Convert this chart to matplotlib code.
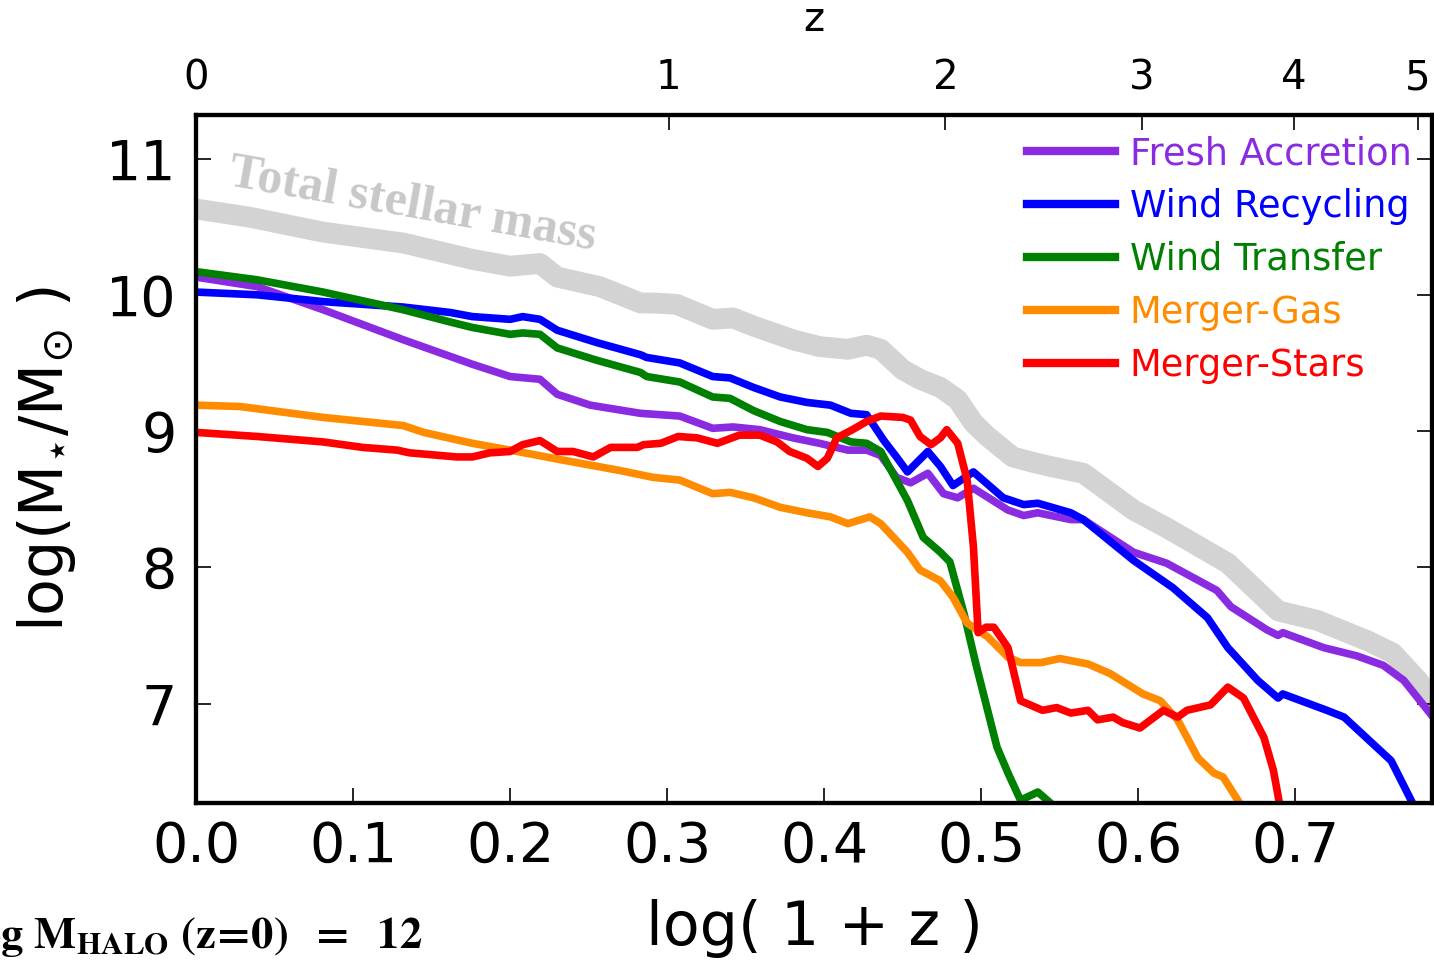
import numpy as np
import matplotlib
matplotlib.use("Agg")
import matplotlib.pyplot as plt

# log(1+z) samples and log stellar mass, one list per channel
total_x = [0.0, 0.034, 0.081, 0.132, 0.176, 0.200, 0.219, 0.230, 0.257, 0.283, 0.291, 0.306,
           0.329, 0.342, 0.355, 0.380, 0.397, 0.415, 0.427, 0.436, 0.450, 0.461, 0.474, 0.485,
           0.495, 0.504, 0.520, 0.533, 0.544, 0.565, 0.597, 0.618, 0.639, 0.657, 0.689, 0.714,
           0.746, 0.762, 0.778, 0.787]
total_y = [10.63, 10.57, 10.46, 10.38, 10.26, 10.21, 10.23, 10.13, 10.06, 9.94, 9.94, 9.93,
           9.82, 9.83, 9.77, 9.67, 9.62, 9.60, 9.63, 9.60, 9.45, 9.38, 9.32, 9.23,
           9.06, 8.96, 8.81, 8.77, 8.74, 8.69, 8.42, 8.29, 8.15, 8.03, 7.68, 7.61,
           7.46, 7.37, 7.17, 7.03]

fresh_x = [0.0, 0.039, 0.081, 0.132, 0.176, 0.200, 0.219, 0.230, 0.251, 0.283, 0.308, 0.329,
           0.342, 0.359, 0.380, 0.397, 0.415, 0.427, 0.436, 0.446, 0.455, 0.466, 0.476, 0.485,
           0.495, 0.517, 0.527, 0.536, 0.557, 0.565, 0.597, 0.618, 0.650, 0.659, 0.682, 0.689,
           0.692, 0.718, 0.739, 0.756, 0.769, 0.787]
fresh_y = [10.13, 10.06, 9.89, 9.67, 9.49, 9.40, 9.38, 9.27, 9.19, 9.13, 9.11, 9.02,
           9.03, 9.01, 8.95, 8.91, 8.86, 8.86, 8.82, 8.66, 8.62, 8.69, 8.54, 8.51,
           8.58, 8.42, 8.38, 8.40, 8.35, 8.35, 8.11, 8.03, 7.83, 7.71, 7.54, 7.50,
           7.52, 7.41, 7.35, 7.28, 7.17, 6.91]

recyc_x = [0.0, 0.039, 0.081, 0.132, 0.162, 0.176, 0.200, 0.208, 0.219, 0.230, 0.255, 0.283,
           0.287, 0.308, 0.329, 0.340, 0.355, 0.372, 0.389, 0.404, 0.417, 0.427, 0.438, 0.446,
           0.453, 0.466, 0.474, 0.482, 0.495, 0.514, 0.527, 0.536, 0.557, 0.565, 0.597, 0.622,
           0.644, 0.657, 0.676, 0.689, 0.692, 0.720, 0.731, 0.761, 0.775]
recyc_y = [10.02, 10.00, 9.95, 9.91, 9.87, 9.84, 9.82, 9.84, 9.82, 9.74, 9.65, 9.56,
           9.54, 9.50, 9.40, 9.39, 9.32, 9.25, 9.21, 9.19, 9.13, 9.12, 8.93, 8.81,
           8.70, 8.85, 8.74, 8.60, 8.70, 8.51, 8.46, 8.47, 8.40, 8.35, 8.05, 7.85,
           7.63, 7.41, 7.17, 7.04, 7.07, 6.95, 6.90, 6.58, 6.26]

transfer_x = [0.0, 0.039, 0.081, 0.132, 0.162, 0.176, 0.200, 0.208, 0.219, 0.230, 0.255, 0.283,
              0.287, 0.308, 0.329, 0.340, 0.355, 0.372, 0.389, 0.402, 0.417, 0.427, 0.436, 0.453,
              0.463, 0.474, 0.480, 0.489, 0.497, 0.510, 0.517, 0.525, 0.536, 0.546]
transfer_y = [10.17, 10.11, 10.02, 9.89, 9.80, 9.76, 9.71, 9.72, 9.71, 9.61, 9.52, 9.43,
              9.40, 9.36, 9.25, 9.24, 9.15, 9.07, 9.01, 8.99, 8.92, 8.91, 8.85, 8.49,
              8.22, 8.11, 8.04, 7.66, 7.27, 6.68, 6.49, 6.29, 6.35, 6.25]

mgas_x = [0.0, 0.028, 0.081, 0.132, 0.145, 0.176, 0.200, 0.232, 0.270, 0.291, 0.308, 0.329,
          0.340, 0.355, 0.372, 0.389, 0.404, 0.415, 0.429, 0.436, 0.453, 0.461, 0.474, 0.482,
          0.491, 0.504, 0.517, 0.525, 0.538, 0.550, 0.568, 0.582, 0.603, 0.614, 0.625, 0.638,
          0.648, 0.654, 0.665]
mgas_y = [9.19, 9.18, 9.10, 9.04, 8.99, 8.91, 8.86, 8.79, 8.71, 8.66, 8.64, 8.54,
          8.55, 8.51, 8.44, 8.40, 8.37, 8.32, 8.37, 8.32, 8.11, 7.98, 7.90, 7.78,
          7.59, 7.49, 7.34, 7.30, 7.30, 7.33, 7.29, 7.22, 7.07, 7.02, 6.88, 6.60,
          6.49, 6.46, 6.26]

mstar_x = [0.0, 0.039, 0.081, 0.106, 0.128, 0.136, 0.166, 0.176, 0.187, 0.200, 0.208, 0.219,
           0.230, 0.240, 0.253, 0.264, 0.281, 0.285, 0.296, 0.307, 0.319, 0.332, 0.346, 0.359,
           0.370, 0.378, 0.389, 0.396, 0.402, 0.408, 0.418, 0.427, 0.436, 0.450, 0.455, 0.461,
           0.468, 0.474, 0.478, 0.485, 0.491, 0.495, 0.498, 0.503, 0.508, 0.517, 0.525, 0.529,
           0.539, 0.548, 0.557, 0.568, 0.574, 0.584, 0.590, 0.601, 0.616, 0.625, 0.631, 0.646,
           0.657, 0.667, 0.680, 0.686, 0.690]
mstar_y = [8.99, 8.96, 8.92, 8.88, 8.86, 8.84, 8.81, 8.81, 8.84, 8.85, 8.90, 8.93,
           8.85, 8.85, 8.81, 8.88, 8.88, 8.90, 8.91, 8.96, 8.95, 8.91, 8.97, 8.97,
           8.92, 8.85, 8.80, 8.74, 8.80, 8.95, 9.01, 9.07, 9.11, 9.10, 9.08, 8.96,
           8.90, 8.95, 9.01, 8.91, 8.64, 8.15, 7.52, 7.56, 7.56, 7.41, 7.02, 7.00,
           6.95, 6.97, 6.93, 6.95, 6.88, 6.90, 6.86, 6.82, 6.95, 6.90, 6.95, 6.99,
           7.12, 7.04, 6.75, 6.51, 6.26]

labels = ["Fresh Accretion", "Wind Recycling", "Wind Transfer", "Merger-Gas", "Merger-Stars"]
colors = ["#8A2BE2", "#0000FF", "#008000", "#FF8C00", "#FF0000"]

z_ticks = [0, 1, 2, 3, 4, 5]

plt.rcParams["mathtext.fontset"] = "dejavusans"

fig = plt.figure(figsize=(14.34, 9.63), dpi=100)
ax = fig.add_axes([0.1367, 0.1662, 0.8619, 0.7144])

# total stellar mass as a thick grey band
ax.plot(total_x, total_y, color="lightgray", lw=15, solid_joinstyle="round", zorder=1)

series = [(fresh_x, fresh_y), (recyc_x, recyc_y), (transfer_x, transfer_y),
          (mgas_x, mgas_y), (mstar_x, mstar_y)]
for (xs, ys), lab, col in zip(series, labels, colors):
    ax.plot(xs, ys, color=col, lw=5.5, label=lab, zorder=2,
            solid_joinstyle="round")

ax.set_xlim(0, 0.787)
ax.set_ylim(6.27, 11.32)
ax.set_xticks(np.arange(0, 0.71, 0.1))
ax.set_xticklabels(["0.0", "0.1", "0.2", "0.3", "0.4", "0.5", "0.6", "0.7"])
ax.set_yticks([7, 8, 9, 10, 11])
ax.tick_params(direction="in", length=11, width=1.2, labelsize=40, pad=14,
               right=True, top=False)
ax.tick_params(axis="x", pad=12)
for sp in ax.spines.values():
    sp.set_linewidth(3)

ax.set_xlabel("log( 1 + z )", fontsize=43.5, labelpad=18)
ax.set_ylabel(r"log(M$_{\star}$/M$_{\odot}$ )", fontsize=43.5, labelpad=20)

ax.text(0.020, 10.81, "Total stellar mass", family="Liberation Serif", weight="bold",
        fontsize=36, color="#c8c8c8", rotation=-10, ha="left", va="baseline",
        rotation_mode="anchor")

leg = ax.legend(loc="upper right", frameon=False, fontsize=26.5, handlelength=2.4,
                handletextpad=0.4, labelspacing=0.43, borderaxespad=0.3,
                borderpad=0.25)
for txt, col in zip(leg.get_texts(), colors):
    txt.set_color(col)
for ln in leg.get_lines():
    ln.set_linewidth(6)

# top axis in redshift
top = ax.twiny()
top.set_xlim(ax.get_xlim())
top.set_xticks([np.log10(1 + z) for z in z_ticks])
top.set_xticklabels([str(z) for z in z_ticks])
top.tick_params(direction="in", length=11, width=1.2, labelsize=29, pad=12)
top.set_xlabel("z", fontsize=29, labelpad=20)
for sp in top.spines.values():
    sp.set_linewidth(3)

fig.text(422 / 1434, 1 - 948 / 963, r"$\mathbf{log\ M_{HALO}\ (z\!=\!0)\ \ =\ \ 12}$",
         fontsize=32, ha="right", va="baseline", math_fontfamily="stix")

fig.savefig("out.png", dpi=100)
